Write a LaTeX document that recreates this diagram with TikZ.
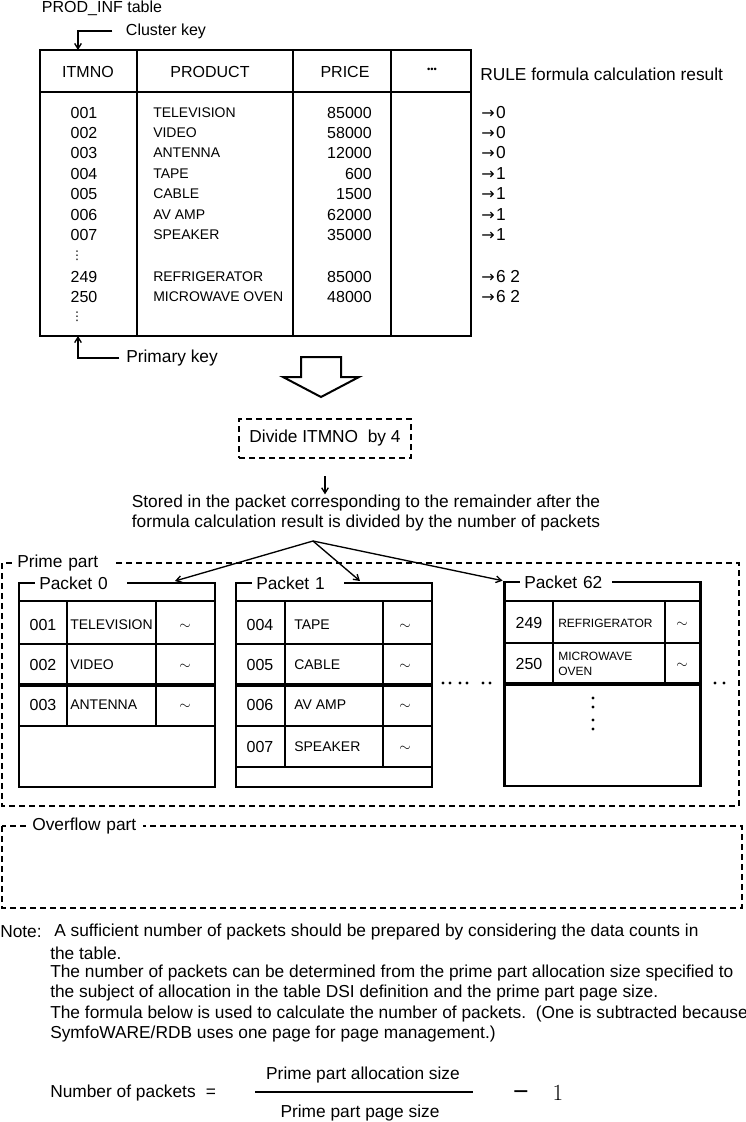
\documentclass[tikz,border=0pt]{standalone}
\usepackage{fontspec}
\setmainfont{Liberation Sans}
\newfontfamily\symfont{DejaVu Sans}
\usetikzlibrary{arrows.meta}

\tikzset{
  boxframe/.style={draw,line width=2pt,inner sep=0pt,outer sep=0pt},
  tblline/.style={line width=2pt},
  rowline/.style={line width=1.5pt},
  dashbox/.style={draw,dash pattern=on 4.5pt off 3pt,line width=1.2pt},
  txt/.style={inner sep=0pt,font=\fontsize{13}{15.5}\selectfont},
  hdr/.style={inner sep=0pt,font=\fontsize{12}{14}\selectfont},
  cell/.style={inner sep=0pt,font=\fontsize{10.5}{12}\selectfont},
  numcell/.style={inner sep=0pt,font=\fontsize{12}{13}\selectfont},
  smallcell/.style={inner sep=0pt,font=\fontsize{9}{11.5}\selectfont,align=left},
  skipdots/.style={inner sep=0pt,font=\symfont\fontsize{9}{9}\selectfont},
  result/.style={inner sep=0pt,anchor=west,font=\fontsize{13}{15}\selectfont},
  cutlabel/.style={fill=white,anchor=west,inner xsep=3pt,inner ysep=1pt,align=left,font=\fontsize{13}{14}\selectfont},
  arr/.style={-{Straight Barb[length=4pt,width=5pt]},line width=1pt},
}
\newcommand{\resarrow}{{\symfont\fontsize{12}{12}\selectfont →}\kern1pt}

\begin{document}
\begin{tikzpicture}[x=0.75pt,y=-0.75pt]
\useasboundingbox (0,0) rectangle (746,1122);

% PROD_INF table
\node[hdr] (title) at (102,8) {PROD\_INF table};
\node[hdr] (ckey) at (166,31) {Cluster key};
\node[boxframe,minimum width=323.25pt,minimum height=214.5pt] (tbl) at (255.5,193) {};
\draw[tblline] (40,92) -- (471,92);
\draw[tblline] (137,50) -- (137,336);
\draw[tblline] (293,50) -- (293,336);
\draw[tblline] (391,50) -- (391,336);
\draw[arr] ([xshift=-10pt]ckey.west) -| ([xshift=28.5pt]tbl.north west);

%header
\node[hdr] (hno) at (88,72) {ITMNO};
\node[hdr] (hprod) at (210,72) {PRODUCT};
\node[hdr] (hprice) at (345,72) {PRICE};
\node[inner sep=0pt,font=\fontsize{7}{7}\selectfont] (hmore) at (432,70) {•••};
\node[txt,anchor=west] (hrule) at (480,74) {RULE formula calculation result};

%rows
\node[numcell] (n001) at (84,113) {001};
\node[cell,anchor=west] (p001) at (153,113) {TELEVISION};
\node[numcell,anchor=east] (c001) at (372,113) {85000};
\node[result] (r001) at (481,113) {\resarrow 0};
\node[numcell] (n002) at (84,133) {002};
\node[cell,anchor=west] (p002) at (153,133) {VIDEO};
\node[numcell,anchor=east] (c002) at (372,133) {58000};
\node[result] (r002) at (481,133) {\resarrow 0};
\node[numcell] (n003) at (84,153) {003};
\node[cell,anchor=west] (p003) at (153,153) {ANTENNA};
\node[numcell,anchor=east] (c003) at (372,153) {12000};
\node[result] (r003) at (481,153) {\resarrow 0};
\node[numcell] (n004) at (84,174) {004};
\node[cell,anchor=west] (p004) at (153,174) {TAPE};
\node[numcell,anchor=east] (c004) at (372,174) {600};
\node[result] (r004) at (481,174) {\resarrow 1};
\node[numcell] (n005) at (84,194) {005};
\node[cell,anchor=west] (p005) at (153,194) {CABLE};
\node[numcell,anchor=east] (c005) at (372,194) {1500};
\node[result] (r005) at (481,194) {\resarrow 1};
\node[numcell] (n006) at (84,215) {006};
\node[cell,anchor=west] (p006) at (153,215) {AV AMP};
\node[numcell,anchor=east] (c006) at (372,215) {62000};
\node[result] (r006) at (481,215) {\resarrow 1};
\node[numcell] (n007) at (84,235) {007};
\node[cell,anchor=west] (p007) at (153,235) {SPEAKER};
\node[numcell,anchor=east] (c007) at (372,235) {35000};
\node[result] (r007) at (481,235) {\resarrow 1};
\node[skipdots] (skip1) at (77,256) {⋮};
\node[numcell] (n249) at (84,277) {249};
\node[cell,anchor=west] (p249) at (153,277) {REFRIGERATOR};
\node[numcell,anchor=east] (c249) at (372,277) {85000};
\node[result] (r249) at (481,277) {\resarrow 6 2};
\node[numcell] (n250) at (84,297) {250};
\node[cell,anchor=west] (p250) at (153,297) {MICROWAVE OVEN};
\node[numcell,anchor=east] (c250) at (372,297) {48000};
\node[result] (r250) at (481,297) {\resarrow 6 2};
\node[skipdots] (skip2) at (77,317) {⋮};

\node[txt] (pkey) at (172,358) {Primary key};
\draw[arr] ([xshift=-5pt]pkey.west) -| ([xshift=28.5pt]tbl.south west);

% hollow arrow
\draw[line width=1.5pt,fill=white] (301,357) -- (341,357) -- (341,377) -- (359,377) -- (321,397) -- (283,377) -- (301,377) -- cycle;

% divide
\node[dashbox,txt,minimum width=129pt,minimum height=29.25pt] (div) at (325,438.5) {Divide ITMNO\ \ by 4};
\node[txt,align=center] (stored) at (366,513) {Stored in the packet corresponding to the remainder after the\\formula calculation result is divided by the number of packets};
\draw[arr] ([yshift=-13pt]div.south) -- (div.south |- stored.north);

% Prime part
\draw[dashbox] (2,563) rectangle (739,806);
\node[cutlabel,text width=69pt] (prime) at (13,563) {Prime part};

% Packet 0
\node[boxframe,minimum width=147pt,minimum height=153pt] (pk0) at (117,685) {};
\node[cutlabel,text width=63pt] (pk0l) at (35,583) {Packet 0};
\draw[rowline] (19,601) -- (215,601);
\draw[rowline] (19,644) -- (215,644);
\draw[rowline,line width=2.5pt] (19,685) -- (215,685);
\draw[rowline] (19,726) -- (215,726);
\draw[rowline] (67,601) -- (67,726);
\draw[rowline] (156,601) -- (156,726);
\node[numcell] (q001) at (43,625) {001};
\node[cell,anchor=west] (t001) at (70,625) {TELEVISION};
\node[cell] (w001) at (185,627) {$\sim$};
\node[numcell] (q002) at (43,665) {002};
\node[cell,anchor=west] (t002) at (70,665) {VIDEO};
\node[cell] (w002) at (185,667) {$\sim$};
\node[numcell] (q003) at (43,705) {003};
\node[cell,anchor=west] (t003) at (70,705) {ANTENNA};
\node[cell] (w003) at (185,707) {$\sim$};

% Packet 1
\node[boxframe,minimum width=147pt,minimum height=153pt] (pk1) at (334,685) {};
\node[cutlabel,text width=63pt] (pk1l) at (252,583) {Packet 1};
\draw[rowline] (236,601) -- (432,601);
\draw[rowline] (236,644) -- (432,644);
\draw[rowline,line width=2.5pt] (236,685) -- (432,685);
\draw[rowline] (236,726) -- (432,726);
\draw[rowline] (236,767) -- (432,767);
\draw[rowline] (285,601) -- (285,767);
\draw[rowline] (383,601) -- (383,767);
\node[numcell] (q004) at (260,625) {004};
\node[cell,anchor=west] (t004) at (294,625) {TAPE};
\node[cell] (w004) at (405,627) {$\sim$};
\node[numcell] (q005) at (260,665) {005};
\node[cell,anchor=west] (t005) at (294,665) {CABLE};
\node[cell] (w005) at (405,667) {$\sim$};
\node[numcell] (q006) at (260,705) {006};
\node[cell,anchor=west] (t006) at (294,705) {AV AMP};
\node[cell] (w006) at (405,707) {$\sim$};
\node[numcell] (q007) at (260,747) {007};
\node[cell,anchor=west] (t007) at (294,747) {SPEAKER};
\node[cell] (w007) at (405,749) {$\sim$};

% Packet 62
\node[boxframe,minimum width=147pt,minimum height=153pt] (pk62) at (602.5,684) {};
\node[cutlabel,text width=63pt] (pk62l) at (520,582) {Packet 62};
\draw[rowline] (505,601) -- (700,601);
\draw[rowline] (505,643) -- (700,643);
\draw[rowline,line width=2.5pt] (505,684) -- (700,684);
\draw[rowline] (553,601) -- (553,684);
\draw[rowline] (665,601) -- (665,684);
\node[numcell] (q249) at (529,623) {249};
\node[smallcell,anchor=west] (t249) at (558,623) {REFRIGERATOR};
\node[cell] (w249) at (682,625) {$\sim$};
\node[numcell] (q250) at (529,664) {250};
\node[smallcell,anchor=west] (t250) at (558,664) {MICROWAVE\\OVEN};
\node[cell] (w250) at (682,666) {$\sim$};
\fill (593,698) circle (1.6) (593,707) circle (1.6) (593,720) circle (1.6) (593,729) circle (1.6);

%more packets
\fill (443,683) circle (1.6) (450,683) circle (1.6) (460,683) circle (1.6) (467,683) circle (1.6) (483,683) circle (1.6) (490,683) circle (1.6);
\fill (715,683) circle (1.6) (724,683) circle (1.6);

%To packets
\coordinate (fan) at (313,541);
\draw[arr] (fan) -- ([xshift=-30pt,yshift=1.5pt]pk0.north east);
\draw[arr] (fan) -- ([xshift=-54pt,yshift=1.5pt]pk1.north east);
\draw[arr] (fan) -- ([xshift=-1.5pt,yshift=1pt]pk62.north west);

% Overflow part
\draw[dashbox] (2,826) rectangle (742,908);
\node[cutlabel,text width=80pt] (over) at (28,826) {Overflow part};

% Note
\node[txt,anchor=west] (note) at (0,932) {Note:};
\node[txt,anchor=west] (note1) at (54,932) {A sufficient number of packets should be prepared by considering the data counts in};
\node[txt,anchor=west] (note2) at (50,953) {the table.};
\node[txt,anchor=west] (note3) at (50,973) {The number of packets can be determined from the prime part allocation size specified to};
\node[txt,anchor=west] (note4) at (50,993) {the subject of allocation in the table DSI definition and the prime part page size.};
\node[txt,anchor=west] (note5) at (50,1014) {The formula below is used to calculate the number of packets.\ \ (One is subtracted because};
\node[txt,anchor=west] (note6) at (50,1034) {SymfoWARE/RDB uses one page for page management.)};

% formula
\node[txt,anchor=west] (npk) at (50,1093) {Number of packets};
\node[txt] (eq) at (211,1093) {=};
\draw[line width=2pt] (255,1092) -- (473,1092);
\node[txt] (numer) at (363,1075) {Prime part allocation size};
\node[txt] (denom) at (360,1113) {Prime part page size};
\node[inner sep=0pt,anchor=base,font=\fontsize{20}{20}\selectfont] (minus) at (521,1100) {−};
\node[inner sep=0pt,font=\fontsize{16}{16}\selectfont] (one) at (558,1093) {$1$};
\end{tikzpicture}
\end{document}
